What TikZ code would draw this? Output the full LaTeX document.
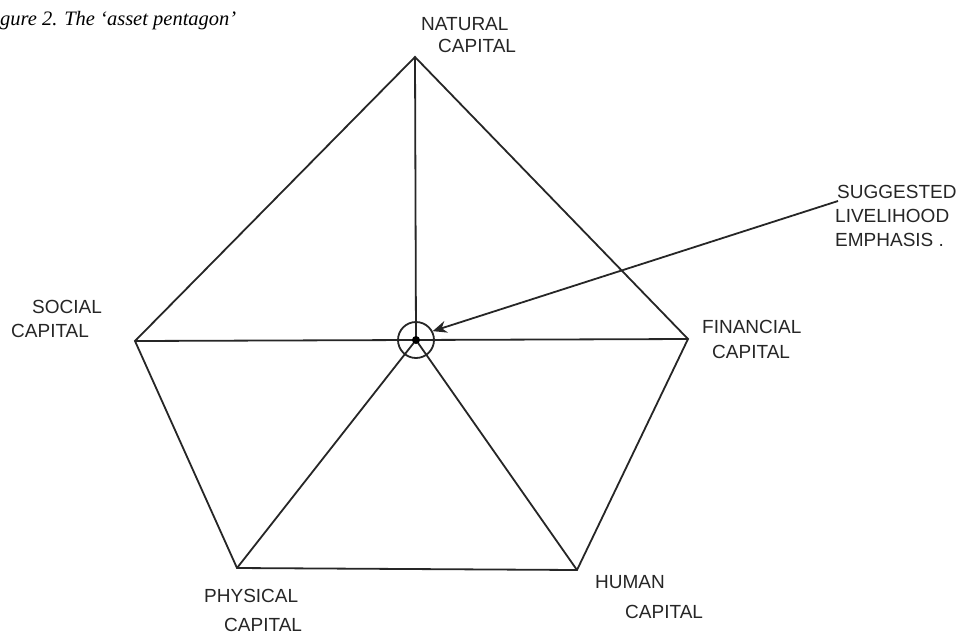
\documentclass[tikz,border=0pt]{standalone}
\usepackage{fontspec}
\setmainfont{Liberation Serif}
\newfontfamily\handfont{Liberation Sans}
\usetikzlibrary{arrows.meta}
\tikzset{
  edge/.style={draw=black!85, line width=1.8pt},
  lbl/.style={font=\handfont\fontsize{19}{21}\selectfont, text=black!85, inner sep=0pt, align=left},
}
\begin{document}
\begin{tikzpicture}[x=1pt,y=-1pt]
\useasboundingbox (0,0) rectangle (967,641);
\fill[white] (0,0) rectangle (967,641);
% caption
\node[anchor=base west, inner sep=0pt, font=\itshape\fontsize{20.5}{23}\selectfont] (cap) at (0,25) {gure 2. The ‘asset pentagon’};
% vertices
\coordinate (T) at (415,57);
\coordinate (L) at (135,341);
\coordinate (R) at (688,339);
\coordinate (BL) at (237,568);
\coordinate (BR) at (577,570);
\coordinate (C) at (416,340);
% pentagon
\draw[edge] (T) -- (R) -- (BR) -- (BL) -- (L) -- cycle;
% spokes
\draw[edge] (T) -- (C);
\draw[edge] (L) -- (R);
\draw[edge] (C) -- (BL);
\draw[edge] (C) -- (BR);
% centre marker
\node[draw=black!85, line width=1.8pt, circle, minimum size=36pt, inner sep=0pt] (ring) at (C) {};
\fill[black] (C) circle (4pt);
% labels
\node[lbl, anchor=west] (nat1) at (421,24) {NATURAL};
\node[lbl, anchor=west] (nat2) at (438,46) {CAPITAL};
\node[lbl, anchor=west] (sug1) at (837,192) {SUGGESTED};
\node[lbl, anchor=west] (sug2) at (835,216) {LIVELIHOOD};
\node[lbl, anchor=west] (sug3) at (835,240) {EMPHASIS .};
\node[lbl, anchor=west] (soc1) at (32,307) {SOCIAL};
\node[lbl, anchor=west] (soc2) at (11,331) {CAPITAL};
\node[lbl, anchor=west] (fin1) at (702,327) {FINANCIAL};
\node[lbl, anchor=west] (fin2) at (712,352) {CAPITAL};
\node[lbl, anchor=west] (phy1) at (204,596) {PHYSICAL};
\node[lbl, anchor=west] (phy2) at (224,625) {CAPITAL};
\node[lbl, anchor=west] (hum1) at (595,582) {HUMAN};
\node[lbl, anchor=west] (hum2) at (625,612) {CAPITAL};
% arrow
\coordinate (astart) at (838,201);
\draw[draw=black!85, line width=1.8pt, -{Stealth[length=14pt,width=12pt]}] (astart) -- (ring.28);
\end{tikzpicture}
\end{document}
